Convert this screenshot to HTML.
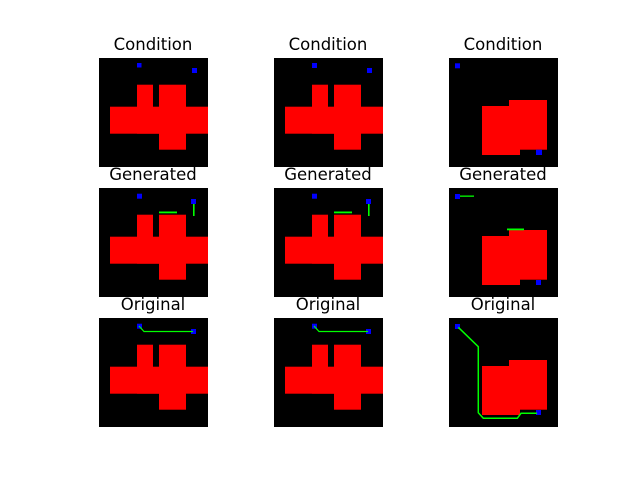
<!DOCTYPE html>
<html><head><meta charset="utf-8"><style>
html,body{margin:0;padding:0;background:#fff;width:640px;height:480px;overflow:hidden}
svg{display:block}
text{font-family:"DejaVu Sans","Liberation Sans",sans-serif;font-size:16.5px;fill:#000}
</style></head><body>
<svg width="640" height="480" viewBox="0 0 640 480">
<defs>
<g id="rooms1">
<rect x="0" y="0" width="109" height="109" fill="#000"/>
<rect x="38" y="26.7" width="16" height="49" fill="#f00"/>
<rect x="60" y="26.7" width="27" height="65" fill="#f00"/>
<rect x="11" y="48.7" width="98" height="27" fill="#f00"/>
<rect x="54" y="59.7" width="6" height="16" fill="#f00"/>
</g>
<g id="rooms3">
<rect x="0" y="0" width="109" height="109" fill="#000"/>
<rect x="33" y="48" width="38" height="49" fill="#f00"/>
<rect x="60" y="42" width="38" height="49.7" fill="#f00"/>
</g>
</defs>

<!-- Row 1: Condition -->
<text x="153" y="50" text-anchor="middle">Condition</text>
<g transform="translate(99,58)">
<use href="#rooms1"/>
<rect x="38" y="5" width="4.5" height="4.5" fill="#00f"/>
<rect x="93" y="10" width="5" height="5" fill="#00f"/>
</g>
<text x="328" y="50" text-anchor="middle">Condition</text>
<g transform="translate(274,58)">
<use href="#rooms1"/>
<rect x="38" y="5" width="5" height="5" fill="#00f"/>
<rect x="93" y="10" width="5" height="5" fill="#00f"/>
</g>
<text x="503" y="50" text-anchor="middle">Condition</text>
<g transform="translate(449,58)">
<use href="#rooms3"/>
<rect x="6" y="5.3" width="5" height="5" fill="#00f"/>
<rect x="87" y="91.7" width="6" height="5.3" fill="#00f"/>
</g>

<!-- Row 2: Generated -->
<text x="153" y="180" text-anchor="middle">Generated</text>
<g transform="translate(99,188)">
<use href="#rooms1"/>
<rect x="60" y="23.5" width="18" height="1.8" fill="#0f0"/>
<rect x="94" y="16" width="1.6" height="12" fill="#0f0"/>
<rect x="38" y="5.7" width="5" height="5" fill="#00f"/>
<rect x="92" y="11" width="5" height="5" fill="#00f"/>
</g>
<text x="328" y="180" text-anchor="middle">Generated</text>
<g transform="translate(274,188)">
<use href="#rooms1"/>
<rect x="60" y="23.5" width="18" height="1.8" fill="#0f0"/>
<rect x="94" y="16" width="1.6" height="12" fill="#0f0"/>
<rect x="38" y="5.7" width="5" height="5" fill="#00f"/>
<rect x="92" y="11" width="5" height="5" fill="#00f"/>
</g>
<text x="503" y="180" text-anchor="middle">Generated</text>
<g transform="translate(449,188)">
<use href="#rooms3"/>
<rect x="6" y="7.5" width="19" height="1.3" fill="#0f0"/>
<rect x="58" y="40.5" width="17" height="1.8" fill="#0f0"/>
<rect x="6" y="6" width="5" height="5" fill="#00f"/>
<rect x="87" y="92" width="5" height="5" fill="#00f"/>
</g>

<!-- Row 3: Original -->
<text x="153" y="310" text-anchor="middle">Original</text>
<g transform="translate(99,318)">
<use href="#rooms1"/>
<rect x="38" y="5.7" width="5" height="5" fill="#00f"/>
<rect x="92" y="11" width="5" height="5" fill="#00f"/>
<polyline points="40,8 45,13.5 94,13.5" fill="none" stroke="#0f0" stroke-width="1.2"/>
</g>
<text x="328" y="310" text-anchor="middle">Original</text>
<g transform="translate(274,318)">
<use href="#rooms1"/>
<rect x="38" y="5.7" width="5" height="5" fill="#00f"/>
<rect x="92" y="11" width="5" height="5" fill="#00f"/>
<polyline points="40,8 45,13.5 94,13.5" fill="none" stroke="#0f0" stroke-width="1.2"/>
</g>
<text x="503" y="310" text-anchor="middle">Original</text>
<g transform="translate(449,318)">
<use href="#rooms3"/>
<rect x="6" y="6" width="5" height="5" fill="#00f"/>
<rect x="87" y="92" width="5" height="5" fill="#00f"/>
<polyline points="9.3,9.3 29.3,28.7 29.3,94.7 34.3,100.3 68.3,100.3 72,95.3 88,95.3" fill="none" stroke="#0f0" stroke-width="1.5"/>
</g>
</svg>
</body></html>
